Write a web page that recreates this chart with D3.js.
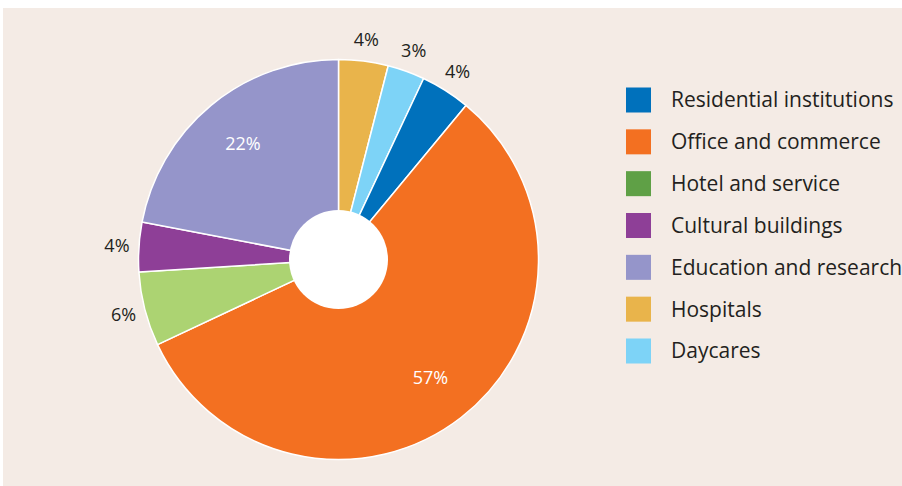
<!DOCTYPE html>
<html>
<head>
<meta charset="utf-8">
<script src="https://cdn.jsdelivr.net/npm/d3@7"></script>
<style>
  html, body { margin: 0; padding: 0; background: #ffffff; }
  svg { display: block; }
  text { font-family: "Open Sans", "Noto Sans", sans-serif; fill: #231f20; }
</style>
</head>
<body>
<svg id="chart" width="902" height="486"></svg>
<script>
// Data, in drawing order (clockwise from 12 o'clock)
const categories = ["Hospitals", "Daycares", "Residential institutions", "Office and commerce",
                    "Hotel and service", "Cultural buildings", "Education and research"];
const values = [4, 3, 4, 57, 6, 4, 22];
const sliceColors = ["#e9b44b", "#7dd3f7", "#0071bc", "#f37021", "#acd372", "#8e3f97", "#9595ca"];

// Legend order
const legendItems = ["Residential institutions", "Office and commerce", "Hotel and service",
                     "Cultural buildings", "Education and research", "Hospitals", "Daycares"];
const legendColors = ["#0071bc", "#f37021", "#5fa046", "#8e3f97", "#9595ca", "#e9b44b", "#7dd3f7"];

// Labels drawn inside the slice (white)
const insideLabels = ["Office and commerce", "Education and research"];

const svg = d3.select("#chart");

svg.append("rect")
  .attr("x", 3).attr("y", 8)
  .attr("width", 899).attr("height", 478)
  .attr("fill", "#f4ebe5");

const cx = 338.5, cy = 259.5, R = 200, r0 = 49.5;

const g = svg.append("g").attr("transform", `translate(${cx},${cy})`);

const data = categories.map((c, i) => ({ name: c, value: values[i], color: sliceColors[i] }));

const pie = d3.pie().value(d => d.value).sort(null);
const arcs = pie(data);

const arc = d3.arc().innerRadius(0).outerRadius(R);

g.selectAll("path.slice")
  .data(arcs)
  .join("path")
  .attr("class", "slice")
  .attr("d", arc)
  .attr("fill", d => d.data.color)
  .attr("stroke", "#ffffff")
  .attr("stroke-width", 1.5)
  .attr("stroke-linejoin", "round");

g.append("circle").attr("r", r0).attr("fill", "#ffffff");

const outerLabelArc = d3.arc().innerRadius(222).outerRadius(222);
const innerLabelArc = d3.arc().innerRadius(150).outerRadius(150);

g.selectAll("text.pct")
  .data(arcs)
  .join("text")
  .attr("class", "pct")
  .attr("transform", d => {
    const inside = insideLabels.includes(d.data.name);
    const p = (inside ? innerLabelArc : outerLabelArc).centroid(d);
    return `translate(${p[0]},${p[1]})`;
  })
  .attr("text-anchor", "middle")
  .attr("dy", "0.35em")
  .style("font-size", "18px")
  .style("fill", d => insideLabels.includes(d.data.name) ? "#ffffff" : "#231f20")
  .text(d => d.data.value + "%");

// Legend
const ly = d3.scalePoint().domain(legendItems).range([100, 351]);
const legend = svg.append("g");
const rows = legend.selectAll("g.row")
  .data(legendItems)
  .join("g")
  .attr("class", "row")
  .attr("transform", d => `translate(626,${ly(d)})`);

rows.append("rect")
  .attr("x", 0).attr("y", -12.5)
  .attr("width", 25).attr("height", 25)
  .attr("fill", (d, i) => legendColors[i]);

rows.append("text")
  .attr("x", 45)
  .attr("dy", "0.35em")
  .style("font-size", "21px")
  .text(d => d);
</script>
</body>
</html>
